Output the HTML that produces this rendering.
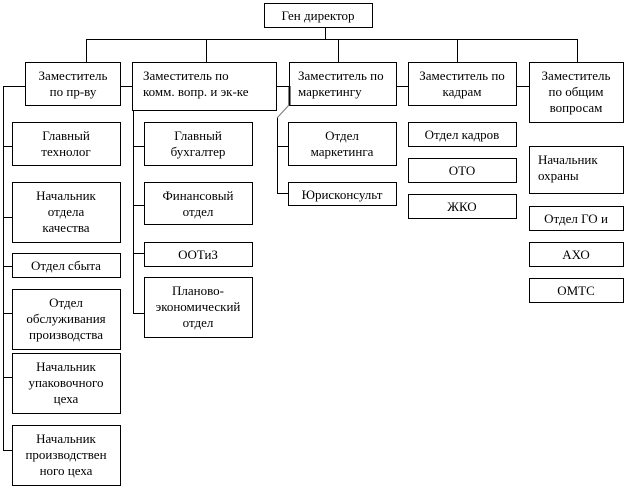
<!DOCTYPE html>
<html><head><meta charset="utf-8"><style>
html,body{margin:0;padding:0;background:#fff;}
svg{display:block;}
text{font-family:"Liberation Serif","Noto Serif CJK SC",serif;font-size:13px;fill:#000;}
</style></head><body>
<svg width="627" height="488" viewBox="0 0 627 488" xmlns="http://www.w3.org/2000/svg">
<g fill="#fff" stroke="#000" stroke-width="1">
<rect x="264.5" y="3.5" width="108" height="24"/>
<rect x="25.5" y="62.5" width="95" height="43"/>
<rect x="132.5" y="62.5" width="144" height="48"/>
<rect x="289.5" y="62.5" width="107" height="43"/>
<rect x="408.5" y="62.5" width="108" height="43"/>
<rect x="529.5" y="62.5" width="94" height="60"/>
<rect x="12.5" y="122.5" width="108" height="43"/>
<rect x="12.5" y="182.5" width="108" height="60"/>
<rect x="12.5" y="253.5" width="108" height="24"/>
<rect x="12.5" y="289.5" width="108" height="60"/>
<rect x="12.5" y="353.5" width="108" height="60"/>
<rect x="12.5" y="425.5" width="108" height="60"/>
<rect x="144.5" y="122.5" width="108" height="43"/>
<rect x="144.5" y="182.5" width="108" height="42"/>
<rect x="144.5" y="242.5" width="108" height="24"/>
<rect x="144.5" y="277.5" width="108" height="60"/>
<rect x="288.5" y="122.5" width="108" height="43"/>
<rect x="288.5" y="182.5" width="108" height="23"/>
<rect x="408.5" y="122.5" width="108" height="24"/>
<rect x="408.5" y="158.5" width="108" height="24"/>
<rect x="408.5" y="194.5" width="108" height="24"/>
<rect x="529.5" y="146.5" width="94" height="47"/>
<rect x="529.5" y="206.5" width="94" height="24"/>
<rect x="529.5" y="242.5" width="94" height="24"/>
<rect x="529.5" y="278.5" width="94" height="24"/>
</g>
<g stroke="#000" stroke-width="1" fill="none">
<path d="M325.5 27v12.5M86.5 39.5H577.5M86.5 39v23M206.5 39v23M338.5 39v23M457.5 39v23M577.5 39v23"/>
<path d="M120 86.5h12M276 86.5h13M396 86.5h12M516 86.5h13"/>
<path d="M3.5 86v364M3 86.5h22M3 146.5h9M3 217.5h9M3 266.5h9M3 313.5h9M3 377.5h9M3 450.5h9"/>
<path d="M133.5 110v204M133 146.5h11M133 205.5h11M133 253.5h11M133 313.5h11"/>
<path d="M277.5 118v75M277 146.5h11M277 193.5h11"/>
<path d="M289.5 86v19" stroke-width="2"/>
<path d="M289 105L277 118" stroke="#777"/>
</g>
<g text-anchor="middle">
<text x="318" y="20">Ген директор</text>
<text x="73" y="80">Заместитель</text><text x="73" y="96">по пр-ву</text>
<text x="66" y="140">Главный</text><text x="66" y="156">технолог</text>
<text x="66" y="200">Начальник</text><text x="66" y="216">отдела</text><text x="66" y="232">качества</text>
<text x="66" y="270">Отдел  сбыта</text>
<text x="66" y="307">Отдел</text><text x="66" y="323">обслуживания</text><text x="66" y="339">производства</text>
<text x="66" y="371">Начальник</text><text x="66" y="387">упаковочного</text><text x="66" y="403">цеха</text>
<text x="66" y="443">Начальник</text><text x="66" y="459">производствен</text><text x="66" y="475">ного цеха</text>
<text x="198" y="140">Главный</text><text x="198" y="156">бухгалтер</text>
<text x="198" y="200">Финансовый</text><text x="198" y="216">отдел</text>
<text x="198" y="259">ООТиЗ</text>
<text x="198" y="295">Планово-</text><text x="198" y="311">экономический</text><text x="198" y="327">отдел</text>
<text x="342" y="140">Отдел</text><text x="342" y="156">маркетинга</text>
<text x="342" y="199">Юрисконсульт</text>
<text x="462" y="80">Заместитель  по</text><text x="462" y="96">кадрам</text>
<text x="462" y="139">Отдел  кадров</text>
<text x="462" y="175">ОТО</text>
<text x="462" y="211">ЖКО</text>
<text x="576" y="80">Заместитель</text><text x="576" y="96">по общим</text><text x="576" y="112">вопросам</text>
<text x="576" y="223">Отдел  ГО и</text>
<text x="576" y="259">АХО</text>
<text x="576" y="295">ОМТС</text>
</g>
<text x="143" y="80">Заместитель  по</text><text x="143" y="96">комм. вопр. и эк-ке</text>
<text x="298" y="80">Заместитель  по</text><text x="298" y="96">маркетингу</text>
<text x="538" y="164">Начальник</text><text x="538" y="180">охраны</text>
</svg>
</body></html>
